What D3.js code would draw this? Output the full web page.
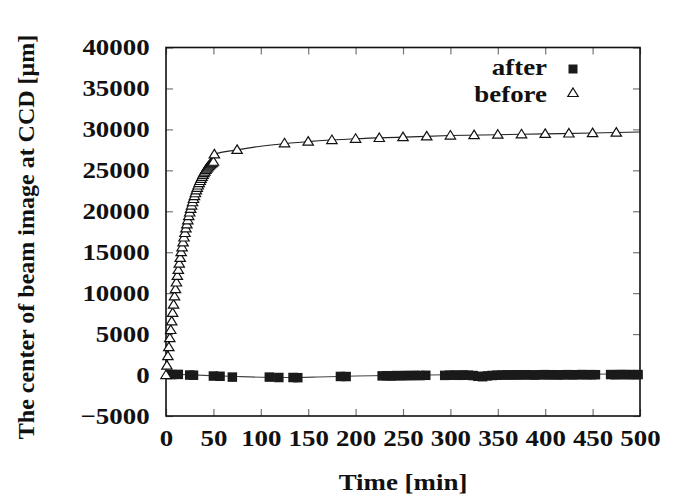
<!DOCTYPE html>
<html>
<head>
<meta charset="utf-8">
<script src="https://cdn.jsdelivr.net/npm/d3@7"></script>
<style>
  body { margin: 0; background: #fff; }
  svg text { font-family: "Times New Roman", Times, "Liberation Serif", Tinos, "Nimbus Roman", serif; font-weight: bold; fill: #111; }
</style>
</head>
<body>
<svg></svg>
<script>
// Data
const beforeT = [0, 1, 2, 3, 4, 5, 6, 7, 8, 9, 10, 11, 12, 13, 14, 15, 16, 17, 18, 19, 20,
  21, 22, 23, 24, 25, 26, 27, 28, 29, 30, 31, 32, 33, 34, 35, 36, 37, 38, 39, 40,
  41, 42, 43, 44, 45, 46, 47, 48, 49, 50, 51,
  75, 125, 150, 175, 200, 225, 250, 275, 300, 325, 350, 375, 400, 425, 450, 475];
const beforeV = [0, 1150, 2300, 3400, 4500, 5500, 6550, 7600, 8600, 9600, 10500,
  11300, 12100, 12850, 13600, 14300, 15000, 15600, 16200, 16800, 17350,
  17900, 18400, 18900, 19400, 19850, 20300, 20700, 21100, 21500, 21850,
  22200, 22550, 22850, 23150, 23450, 23700, 23950, 24200, 24450, 24650,
  24850, 25050, 25200, 25350, 25500, 25620, 25740, 25850, 25950, 26050, 26950,
  27500, 28300, 28500, 28700, 28850, 28950, 29050, 29150, 29250, 29300, 29350, 29400, 29450, 29500, 29550, 29600];

const afterT = [6, 13, 25, 29, 50, 57, 70, 109, 119, 134, 139, 184, 190,
  228, 233, 238, 243, 248, 253, 258, 263, 268, 274,
  294, 299, 304, 309, 314, 319, 324, 329, 334, 339, 344, 349, 354, 359, 364, 369,
  374, 379, 384, 389, 394, 399, 404, 409, 414, 419, 424, 429, 434, 439, 444, 449, 453,
  469, 474, 479, 484, 489, 494, 498];
const afterV = [60, 80, 0, -20, -120, -150, -250, -250, -300, -300, -320, -170, -180,
  -100, -80, -120, -60, -90, -50, -70, -40, -60, -30,
  -40, -20, 0, -30, 10, -20, -60, -150, -200, -100, -50, -20, 0, 20, 0, 30,
  10, 40, 20, 0, 30, 50, 20, 40, 10, 30, 50, 20, 40, 60, 30, 50, 40,
  60, 40, 70, 50, 60, 40, 60];

// Fitted curves (knots)
const fitBeforeT = [0, 5, 10, 15, 20, 25, 30, 40, 51, 75, 100, 150, 200, 250, 300, 350, 400, 450, 500];
const fitBeforeV = [0, 5500, 10500, 14300, 17350, 19850, 21850, 24650, 26950, 27500, 27950, 28500, 28850, 29050, 29250, 29350, 29450, 29550, 29680];
const fitAfterT = [0, 25, 50, 75, 100, 130, 160, 200, 250, 300, 400, 500];
const fitAfterV = [100, 30, -80, -180, -260, -290, -240, -120, -20, 40, 100, 130];

const xTicks = [0, 50, 100, 150, 200, 250, 300, 350, 400, 450, 500];
const yTicks = [-5000, 0, 5000, 10000, 15000, 20000, 25000, 30000, 35000, 40000];
const legendNames = ["after", "before"];

// Sizes
const W = 676, H = 496;
const plot = { l: 166, r: 640, t: 47.5, b: 416 };
const stretch = 1.17;

const svg = d3.select("svg")
  .attr("width", W)
  .attr("height", H);

svg.append("rect").attr("width", W).attr("height", H).attr("fill", "#fff");

// Scales
const xScale = d3.scaleLinear().domain([0, 500]).range([plot.l, plot.r]);
const yScale = d3.scaleLinear().domain([-5000, 40000]).range([plot.b, plot.t]);

// Axes (inward ticks on all four sides)
const styleAxis = g => {
  g.attr("font-family", null).attr("font-size", null);
  g.select(".domain").remove();
  g.selectAll(".tick line").attr("stroke", "#777").attr("stroke-width", 1.2);
  g.selectAll(".tick text")
    .attr("font-size", 23)
    .attr("fill", "#111")
    .attr("transform", `scale(${stretch},1)`);
};

svg.append("g")
  .attr("transform", `translate(0, ${plot.b})`)
  .call(d3.axisBottom(xScale).tickValues(xTicks).tickSize(-7).tickPadding(14).tickFormat(d3.format("d")))
  .call(styleAxis);

svg.append("g")
  .attr("transform", `translate(0, ${plot.t})`)
  .call(d3.axisTop(xScale).tickValues(xTicks).tickSize(-7).tickFormat(""))
  .call(styleAxis);

svg.append("g")
  .attr("transform", `translate(${plot.l}, 0)`)
  .call(d3.axisLeft(yScale).tickValues(yTicks).tickSize(-7).tickPadding(14).tickFormat(d3.format("d")))
  .call(styleAxis);

svg.append("g")
  .attr("transform", `translate(${plot.r}, 0)`)
  .call(d3.axisRight(yScale).tickValues(yTicks).tickSize(-7).tickFormat(""))
  .call(styleAxis);

// Frame
svg.append("rect")
  .attr("x", plot.l).attr("y", plot.t)
  .attr("width", plot.r - plot.l).attr("height", plot.b - plot.t)
  .attr("fill", "none").attr("stroke", "#111").attr("stroke-width", 1.6);

// Fit lines
const line = d3.line()
  .x(d => xScale(d[0]))
  .y(d => yScale(d[1]))
  .curve(d3.curveMonotoneX);

svg.append("path")
  .datum(fitAfterT.map((t, i) => [t, fitAfterV[i]]))
  .attr("d", line)
  .attr("fill", "none").attr("stroke", "#444").attr("stroke-width", 1.1);

svg.append("path")
  .datum(fitBeforeT.map((t, i) => [t, fitBeforeV[i]]))
  .attr("d", line)
  .attr("fill", "none").attr("stroke", "#222").attr("stroke-width", 1.1);

// Markers
const triangle = "M0,-5L5.2,3.5L-5.2,3.5Z";
const sq = 9.5;

svg.append("g")
  .selectAll("rect")
  .data(afterT.map((t, i) => [t, afterV[i]]))
  .join("rect")
    .attr("x", d => xScale(d[0]) - sq / 2)
    .attr("y", d => yScale(d[1]) - sq / 2)
    .attr("width", sq).attr("height", sq)
    .attr("fill", "#1a1a1a");

svg.append("g")
  .selectAll("path")
  .data(beforeT.map((t, i) => [t, beforeV[i]]))
  .join("path")
    .attr("d", triangle)
    .attr("transform", d => `translate(${xScale(d[0])}, ${yScale(d[1])})`)
    .attr("fill", "#fff").attr("stroke", "#111").attr("stroke-width", 1.2);

// Legend
const legend = svg.append("g");
legend.selectAll("text")
  .data(legendNames)
  .join("text")
    .attr("transform", (d, i) => `translate(547, ${75 + i * 27}) scale(${stretch},1)`)
    .attr("text-anchor", "end")
    .attr("font-size", 23)
    .text(d => d);

legend.append("rect")
  .attr("x", 573 - 4.5).attr("y", 69 - 4.5)
  .attr("width", 9).attr("height", 9)
  .attr("fill", "#1a1a1a");

legend.append("path")
  .attr("d", triangle)
  .attr("transform", "translate(573, 93)")
  .attr("fill", "#fff").attr("stroke", "#111").attr("stroke-width", 1.2);

// Axis titles
svg.append("text")
  .attr("transform", `translate(${(plot.l + plot.r) / 2}, 490) scale(${stretch},1)`)
  .attr("text-anchor", "middle")
  .attr("font-size", 23)
  .text("Time [min]");

svg.append("text")
  .attr("transform", "translate(34, 237) rotate(-90)")
  .attr("text-anchor", "middle")
  .attr("font-size", 24)
  .text("The center of beam image at CCD [μm]");
</script>
</body>
</html>
